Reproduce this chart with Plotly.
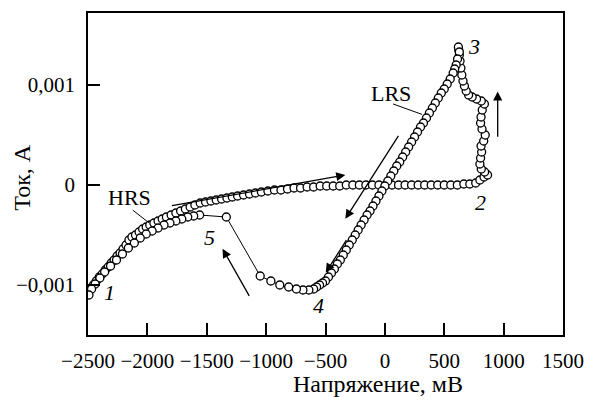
import plotly.graph_objects as go

# Forward sweep along the high-resistance branch (point 1 -> point 2), mV / A
v_hrs_fwd = [-2480, -2455, -2430, -2405, -2380, -2355, -2330, -2305, -2280, -2255,
             -2230, -2205, -2180, -2155, -2130, -2100, -2070, -2040, -2010, -1980,
             -1945, -1910, -1875, -1840, -1800, -1760, -1720, -1680, -1640, -1600,
             -1555, -1510, -1465, -1420, -1375, -1330, -1285, -1240, -1190, -1140,
             -1090, -1040, -985, -930, -875, -820, -765, -710, -655, -600,
             -545, -490, -435, -380, -325, -270, -215, -160, -105, -50,
             5, 60, 115, 170, 225, 280, 335, 390, 445, 500,
             555, 610, 665, 715]
i_hrs_fwd = [-0.00104, -0.00100, -0.00096, -0.00092, -0.00089, -0.00085, -0.00082, -0.00078, -0.00075, -0.00071,
             -0.00068, -0.00064, -0.00060, -0.00055, -0.00052, -0.00050, -0.00047, -0.00044, -0.00042, -0.00040,
             -0.00038, -0.00036, -0.00034, -0.00032, -0.00030, -0.00028, -0.00026, -0.00024, -0.00022, -0.00020,
             -0.00018, -0.00017, -0.00016, -0.00015, -0.00014, -0.00013, -0.00012, -0.00011, -0.00010, -0.00009,
             -0.00008, -0.00007, -0.00006, -0.00005, -0.00005, -0.00004, -0.00003, -0.00003, -0.00002, -0.00002,
             -0.00001, -0.00001, -0.00001, -0.00001, 0.0, 0.0, 0.0, 0.0, 0.0, 0.0,
             0.0, 0.0, 0.0, 0.0, 0.0, 0.0, 0.0, 0.0, 0.0, 0.0,
             0.0, 0.0, 0.00001, 0.00001]

# Switching to the low-resistance state (point 2 -> point 3)
v_set = [765, 800, 835, 865, 840, 812, 800, 806, 815, 810,
         832, 845, 818, 806, 810, 820, 838, 812, 772, 735,
         705, 685, 670, 658, 648, 640, 633, 627, 622, 619]
i_set = [0.00002, 0.00005, 0.00008, 0.00010, 0.00013, 0.00016, 0.00021, 0.00027, 0.00033, 0.00039,
         0.00044, 0.00050, 0.00056, 0.00062, 0.00068, 0.00075, 0.00081, 0.00084, 0.00086, 0.00088,
         0.00090, 0.00094, 0.00099, 0.00104, 0.00110, 0.00117, 0.00124, 0.00130, 0.00135, 0.00138]

# Low-resistance branch (point 3 -> point 4) and the bottom of the loop
v_lrs = [627, 612, 600, 588, 575, 550, 525, 500, 475, 450,
         425, 400, 375, 350, 325, 300, 275, 250, 225, 200,
         175, 150, 125, 100, 75, 50, 25, 0, -25, -50,
         -75, -100, -125, -150, -175, -200, -225, -250, -275, -300,
         -325, -350, -375, -400, -425, -450, -475, -500, -525, -550,
         -575, -600, -640, -690, -745, -810, -885, -960, -1050]
i_lrs = [0.00133, 0.00126, 0.00120, 0.00116, 0.00112, 0.00106, 0.00101, 0.00096, 0.00092, 0.00087,
         0.00082, 0.00077, 0.00072, 0.00067, 0.00062, 0.00058, 0.00053, 0.00048, 0.00043, 0.00038,
         0.00033, 0.00028, 0.00023, 0.00019, 0.00014, 0.00009, 0.00004, -0.00001, -0.00006, -0.00011,
         -0.00016, -0.00021, -0.00026, -0.00030, -0.00035, -0.00040, -0.00045, -0.00050, -0.00055, -0.00060,
         -0.00065, -0.00070, -0.00075, -0.00079, -0.00084, -0.00088, -0.00092, -0.00096, -0.00098, -0.00100,
         -0.00102, -0.00104, -0.00105, -0.00105, -0.00104, -0.00102, -0.00100, -0.00096, -0.00091]

# Reset point 5 and the return along the high-resistance branch to point 1
v_reset = [-1335]
i_reset = [-0.00032]
v_hrs_back = [-1560, -1610, -1660, -1710, -1760, -1810, -1860, -1910, -1960, -2010,
              -2060, -2110, -2160, -2210, -2260, -2310, -2360, -2400, -2440, -2470, -2492]
i_hrs_back = [-0.00030, -0.00031, -0.00032, -0.00034, -0.00036, -0.00038, -0.00040, -0.00043, -0.00046, -0.00049,
              -0.00053, -0.00058, -0.00063, -0.00069, -0.00075, -0.00081, -0.00087, -0.00093, -0.00099, -0.00104, -0.00110]

voltage = v_hrs_fwd + v_set + v_lrs + v_reset + v_hrs_back
current = i_hrs_fwd + i_set + i_lrs + i_reset + i_hrs_back

x_ticks = [-2500, -2000, -1500, -1000, -500, 0, 500, 1000, 1500]
x_tick_text = ["\u22122500", "\u22122000", "\u22121500", "\u22121000", "\u2212500", "0", "500", "1000", "1500"]
y_ticks = [-0.001, 0, 0.001]
y_tick_text = ["\u22120,001", "0", "0,001"]

FONT = "Liberation Serif"
TICK_SIZE = 21
LABEL_SIZE = 22
TITLE_SIZE = 24

fig = go.Figure()
fig.add_trace(go.Scatter(
    x=voltage, y=current, mode="lines+markers",
    line=dict(color="black", width=1),
    marker=dict(symbol="circle", size=8, color="white",
                line=dict(color="black", width=1.3)),
    showlegend=False, hoverinfo="skip",
))

annotations = []

# Sweep direction arrows: (tail_x, tail_y, head_x, head_y)
arrows = [
    (-1805, -0.000209, -333, 0.0000995),
    (122, 0.000507, -333, -0.000338),
    (950, 0.000468, 950, 0.000935),
    (-1135, -0.001124, -1367, -0.000637),
    (-316, -0.000537, -498, -0.000876),
]
for tx, ty, hx, hy in arrows:
    annotations.append(dict(
        x=hx, y=hy, ax=tx, ay=ty, xref="x", yref="y", axref="x", ayref="y",
        text="", showarrow=True, arrowhead=2, arrowsize=1.4, arrowwidth=1.3,
        arrowcolor="black", standoff=0, startstandoff=0,
    ))

# Leader lines for the state labels
leaders = [
    (-2136, -0.000239, -1987, -0.000378),
    (56, 0.000816, 313, 0.000706),
]
for tx, ty, hx, hy in leaders:
    annotations.append(dict(
        x=hx, y=hy, ax=tx, ay=ty, xref="x", yref="y", axref="x", ayref="y",
        text="", showarrow=True, arrowhead=0, arrowwidth=1, arrowcolor="black",
        standoff=0, startstandoff=0,
    ))

labels = [
    ("HRS", -2153, -0.000129, False),
    ("LRS", 50, 0.000915, False),
    ("1", -2318, -0.001075, True),
    ("2", 809, -0.000179, True),
    ("3", 750, 0.001383, True),
    ("4", -556, -0.001204, True),
    ("5", -1474, -0.000527, True),
]
for txt, lx, ly, ital in labels:
    annotations.append(dict(
        x=lx, y=ly, xref="x", yref="y", showarrow=False,
        text=f"<i>{txt}</i>" if ital else txt,
        font=dict(family=FONT, size=LABEL_SIZE, color="black"),
        xanchor="center", yanchor="middle",
    ))

# Axis titles, placed in plot-area (paper) fractions
annotations.append(dict(
    x=0.61, y=-0.152, xref="paper", yref="paper", showarrow=False,
    text="Напряжение, мВ", font=dict(family=FONT, size=TITLE_SIZE, color="black"),
    xanchor="center", yanchor="middle",
))
annotations.append(dict(
    x=-0.138, y=0.49, xref="paper", yref="paper", showarrow=False,
    text="Ток, А", textangle=-90, font=dict(family=FONT, size=TITLE_SIZE, color="black"),
    xanchor="center", yanchor="middle",
))

fig.update_layout(
    width=595, height=401,
    margin=dict(l=88, r=23, t=11, b=66),
    paper_bgcolor="white", plot_bgcolor="white",
    font=dict(family=FONT, size=TICK_SIZE, color="black"),
    annotations=annotations,
)
fig.update_xaxes(
    range=[-2500, 1500], tickvals=x_ticks, ticktext=x_tick_text,
    ticks="inside", ticklen=12, tickwidth=1.5, tickcolor="black",
    showline=True, linecolor="black", linewidth=1.5, mirror=True,
    showgrid=False, zeroline=False, ticklabelstandoff=6,
    tickfont=dict(family=FONT, size=TICK_SIZE),
)
fig.update_yaxes(
    range=[-0.0015, 0.00172], tickvals=y_ticks, ticktext=y_tick_text,
    ticks="inside", ticklen=12, tickwidth=1.5, tickcolor="black",
    showline=True, linecolor="black", linewidth=1.5, mirror=True,
    showgrid=False, zeroline=False, ticklabelstandoff=7,
    tickfont=dict(family=FONT, size=TICK_SIZE),
)

fig.write_html("out.html")
